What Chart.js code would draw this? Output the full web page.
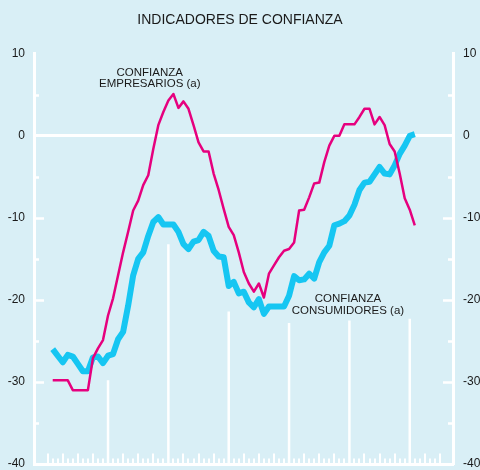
<!DOCTYPE html>
<html>
<head>
<meta charset="utf-8">
<script src="https://cdn.jsdelivr.net/npm/chart.js@4.4.1/dist/chart.umd.min.js"></script>
<style>
html,body{margin:0;padding:0;background:#d9eff6;}
#wrap{width:480px;height:470px;}
</style>
</head>
<body>
<div id="wrap"><canvas id="c" width="480" height="470"></canvas></div>
<script>
// ---- DATA (monthly index 0 = first month shown) ----
const empresarios = [
  -29.8,-29.8,-29.8,-29.8,-31.0,-31.0,-31.0,-31.0,-27.1,-25.9,
  -24.9,-21.9,-19.8,-17.0,-14.2,-11.7,-9.1,-7.9,-6.0,-4.8,
  -1.6,1.3,2.9,4.3,5.1,3.4,4.2,3.3,1.3,-0.8,
  -1.9,-1.9,-4.6,-6.6,-8.9,-11.1,-12.1,-14.2,-16.6,-18.0,
  -19.0,-18.0,-19.7,-16.8,-15.8,-14.8,-14.0,-13.8,-13.0,-9.1,
  -9.0,-7.5,-5.8,-5.7,-3.2,-1.2,0.0,0.0,1.4,1.4,
  1.4,2.3,3.3,3.3,1.4,2.3,1.3,-1.0,-1.9,-4.6,
  -7.6,-9.0,-10.9
];
const consumidores = [
  -26.0,-26.8,-27.6,-26.7,-26.9,-27.8,-28.7,-28.7,-27.0,-26.9,
  -27.7,-26.8,-26.6,-24.8,-23.9,-20.7,-17.0,-15.0,-14.2,-12.2,
  -10.5,-9.9,-10.8,-10.8,-10.8,-11.7,-13.2,-13.8,-12.9,-12.7,
  -11.7,-12.2,-14.0,-14.7,-14.8,-18.3,-17.8,-19.2,-19.0,-20.3,
  -20.9,-19.9,-21.7,-20.8,-20.8,-20.8,-20.8,-19.5,-17.1,-17.6,
  -17.5,-16.8,-17.4,-15.4,-14.2,-13.4,-10.9,-10.7,-10.4,-9.7,
  -8.4,-6.6,-5.7,-5.6,-4.7,-3.8,-4.6,-4.7,-3.6,-2.2,
  -1.2,0.0,0.2
];
// year separators: month index of January and height (value) where the white line stops
const yearStartMonths = [11, 23, 35, 47, 59, 71];
const yearLineTops = [-29.8, -13.2, -21.4, -22.8, -22.5, -22.3];
// axis
const yMin = -40, yMax = 10, yStep = 5, yLabelStep = 10;
const xMin = -3.72, xMax = 79.6;
const firstMonthTick = -1, lastMonthTick = 77;
const titleText = 'INDICADORES DE CONFIANZA';
const annotations = [
  {lines: ['CONFIANZA', 'EMPRESARIOS (a)'], x: 19.3, y: 7.3},
  {lines: ['CONFIANZA', 'CONSUMIDORES (a)'], x: 58.7, y: -20.3}
];

// ---- styles ----
const BG = '#d9eff6';
const PINK = '#e6007e';
const CYAN = '#16c6f2';
const TEXT = '#1a1a1a';
const FONT = "'Liberation Sans', Arial, sans-serif";

const toXY = arr => arr.map((v, i) => ({x: i, y: v}));
const sepData = [];
yearStartMonths.forEach((m, i) => {
  sepData.push({x: m, y: yMin}, {x: m, y: yearLineTops[i]}, {x: m, y: null});
});

const deco = {
  id: 'deco',
  beforeDraw(chart) {
    const c = chart.ctx;
    c.save(); c.fillStyle = BG; c.fillRect(0, 0, chart.width, chart.height); c.restore();
  },
  beforeDatasetsDraw(chart) {
    const c = chart.ctx, a = chart.chartArea, xs = chart.scales.x, ys = chart.scales.y;
    c.save();
    c.strokeStyle = '#ffffff';
    c.lineWidth = 2.5;
    c.lineCap = 'butt';
    const seg = (x1, y1, x2, y2) => { c.beginPath(); c.moveTo(x1, y1); c.lineTo(x2, y2); c.stroke(); };
    ys.ticks.forEach(t => {
      const v = t.value;
      if (v <= yMin || v >= yMax || v === 0) return;
      const py = Math.round(ys.getPixelForValue(v)) + 0.5;
      const len = (v % yLabelStep === 0) ? 10 : 5;
      seg(a.left, py, a.left + len, py);
      seg(a.right, py, a.right - len, py);
    });
    c.lineWidth = 2;
    for (let m = firstMonthTick; m <= lastMonthTick; m++) {
      if (yearStartMonths.includes(m)) continue;
      const px = Math.round(xs.getPixelForValue(m));
      const q = (((m - yearStartMonths[0]) % 3) + 3) % 3 === 0;
      const len = q ? 9 : 4;
      seg(px, a.bottom, px, a.bottom - 1.5 - len);
    }
    c.restore();
  },
  afterDatasetsDraw(chart) {
    const c = chart.ctx, xs = chart.scales.x, ys = chart.scales.y;
    c.save();
    c.fillStyle = TEXT;
    c.font = '11.5px ' + FONT;
    c.textAlign = 'center';
    c.textBaseline = 'alphabetic';
    annotations.forEach(an => {
      const px = xs.getPixelForValue(an.x);
      const py = ys.getPixelForValue(an.y);
      an.lines.forEach((ln, i) => c.fillText(ln, px, py + i * 11.5));
    });
    c.restore();
  }
};

const noPad = s => { s.paddingTop = 0; s.paddingBottom = 0; };

new Chart(document.getElementById('c'), {
  type: 'line',
  data: {
    datasets: [
      {label: 'Empresarios', data: toXY(empresarios), borderColor: PINK, borderWidth: 2.5,
       pointRadius: 0, tension: 0, order: 0, borderJoinStyle: 'round'},
      {label: 'Consumidores', data: toXY(consumidores), borderColor: CYAN, borderWidth: 6,
       pointRadius: 0, tension: 0, order: 1, borderJoinStyle: 'round'},
      {label: 'sep', data: sepData, borderColor: '#ffffff', borderWidth: 2.5,
       pointRadius: 0, tension: 0, order: 2, spanGaps: false}
    ]
  },
  options: {
    responsive: false,
    animation: false,
    devicePixelRatio: 1,
    layout: {padding: 0},
    plugins: {
      legend: {display: false},
      tooltip: {enabled: false},
      title: {display: true, text: titleText, color: TEXT,
        font: {family: FONT, size: 14, weight: 'normal', lineHeight: 1.2},
        padding: {top: 12, bottom: 25}}
    },
    scales: {
      x: {type: 'linear', min: xMin, max: xMax, position: 'bottom',
        grid: {display: false}, ticks: {display: false},
        border: {display: true, color: '#ffffff', width: 3},
        afterFit(s) { s.height = 6; s.paddingLeft = 0; s.paddingRight = 0; }},
      y: {type: 'linear', position: 'left', min: yMin, max: yMax,
        ticks: {stepSize: yStep, padding: 9, color: TEXT, font: {family: FONT, size: 12},
          callback: v => (v % yLabelStep === 0 ? String(v) : '')},
        grid: {drawTicks: false, tickLength: 0,
          color: ctx => (ctx.tick && ctx.tick.value === 0 ? '#ffffff' : 'rgba(0,0,0,0)'),
          lineWidth: ctx => (ctx.tick && ctx.tick.value === 0 ? 3 : 0)},
        border: {display: true, color: '#ffffff', width: 3},
        afterFit(s) { s.width = 34; noPad(s); }},
      y2: {type: 'linear', position: 'right', min: yMin, max: yMax,
        ticks: {stepSize: yStep, padding: 10, color: TEXT, font: {family: FONT, size: 12},
          callback: v => (v % yLabelStep === 0 ? String(v) : '')},
        grid: {display: false, drawTicks: false},
        border: {display: true, color: '#ffffff', width: 3},
        afterFit(s) { s.width = 27; noPad(s); }}
    }
  },
  plugins: [deco]
});
</script>
</body>
</html>
